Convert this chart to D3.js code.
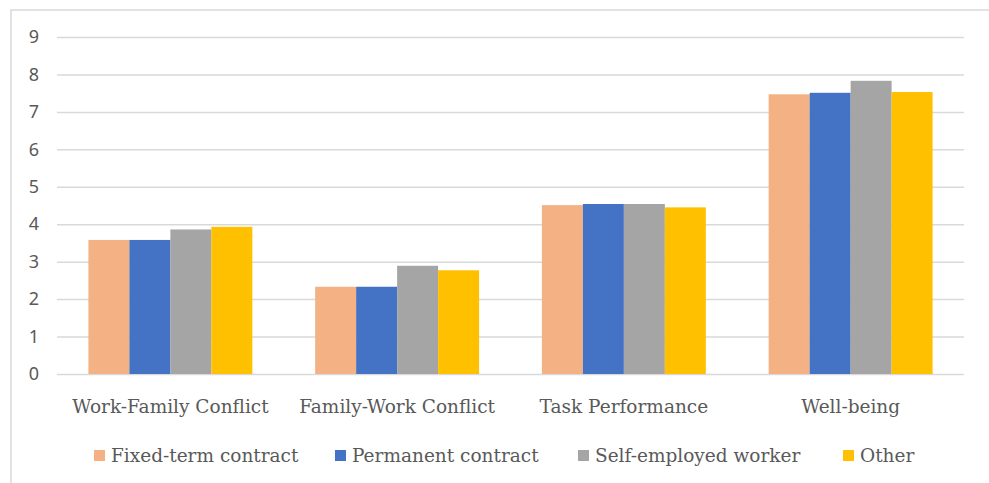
<!DOCTYPE html>
<html>
<head>
<meta charset="utf-8">
<script src="https://cdnjs.cloudflare.com/ajax/libs/d3/7.8.5/d3.min.js"></script>
<style>
  body { margin: 0; background: #fff; }
  svg { display: block; }
</style>
</head>
<body>
<svg id="chart" width="989" height="483"></svg>
<script>
var categories = ["Work-Family Conflict", "Family-Work Conflict", "Task Performance", "Well-being"];
var seriesNames = ["Fixed-term contract", "Permanent contract", "Self-employed worker", "Other"];
var fixedTerm = [3.58, 2.33, 4.51, 7.47];
var permanent = [3.58, 2.33, 4.54, 7.51];
var selfEmployed = [3.86, 2.89, 4.54, 7.83];
var other = [3.93, 2.77, 4.45, 7.53];
var yTicks = [0, 1, 2, 3, 4, 5, 6, 7, 8, 9];
var colors = ["#F4B183", "#4472C4", "#A5A5A5", "#FFC000"];

var series = [fixedTerm, permanent, selfEmployed, other];

var svg = d3.select("#chart");
var plotLeft = 57, plotRight = 964, plotTop = 37, plotBottom = 374;

// outer frame (runs off the right and bottom of the picture)
svg.append("rect")
  .attr("x", 11).attr("y", 10)
  .attr("width", 1100).attr("height", 600)
  .attr("fill", "none")
  .attr("stroke", "#D9D9D9")
  .attr("stroke-width", 1.5);

var y = d3.scaleLinear().domain([0, 9]).range([plotBottom, plotTop]);
var x0 = d3.scaleBand().domain(categories).range([plotLeft, plotRight])
  .paddingInner(0.277).paddingOuter(0.1385);
var x1 = d3.scaleBand().domain(d3.range(series.length)).range([0, x0.bandwidth()]);

/* grid + y labels */
var yAxis = d3.axisLeft(y).tickValues(yTicks).tickSize(-(plotRight - plotLeft)).tickPadding(18);
var gy = svg.append("g").attr("transform", "translate(" + plotLeft + ",0)").call(yAxis);
gy.select(".domain").remove();
gy.selectAll(".tick line").attr("stroke", "#D9D9D9").attr("stroke-width", 1.5);
gy.selectAll(".tick text")
  .attr("fill", "#595959")
  .style("font-family", "'Noto Sans', 'Open Sans', sans-serif")
  .style("font-size", "18px");

/* bars */
var groups = svg.append("g").selectAll("g")
  .data(categories)
  .enter().append("g")
  .attr("transform", function (d) { return "translate(" + x0(d) + ",0)"; });

groups.selectAll("rect")
  .data(function (d, ci) {
    return series.map(function (s, si) { return { si: si, v: s[ci] }; });
  })
  .enter().append("rect")
  .attr("x", function (d) { return x1(d.si); })
  .attr("width", x1.bandwidth())
  .attr("y", function (d) { return y(d.v); })
  .attr("height", function (d) { return y(0) - y(d.v); })
  .attr("fill", function (d) { return colors[d.si]; });

/* category labels */
var xAxis = d3.axisBottom(x0).tickSize(0).tickPadding(0);
var gx = svg.append("g").attr("transform", "translate(0," + plotBottom + ")").call(xAxis);
gx.select(".domain").remove();
gx.selectAll(".tick text")
  .attr("y", 39)
  .attr("dy", 0)
  .attr("fill", "#595959")
  .style("font-family", "'DejaVu Serif', serif")
  .style("font-size", "18.5px");

/* legend */
var legendX = [94, 335, 578, 843];
var legend = svg.append("g").selectAll("g")
  .data(seriesNames)
  .enter().append("g")
  .attr("transform", function (d, i) { return "translate(" + legendX[i] + ",450)"; });
legend.append("rect")
  .attr("width", 11).attr("height", 11)
  .attr("fill", function (d, i) { return colors[i]; });
legend.append("text")
  .attr("x", 17).attr("y", 12)
  .attr("fill", "#595959")
  .style("font-family", "'DejaVu Serif', serif")
  .style("font-size", "18.5px")
  .text(function (d) { return d; });
</script>
</body>
</html>
